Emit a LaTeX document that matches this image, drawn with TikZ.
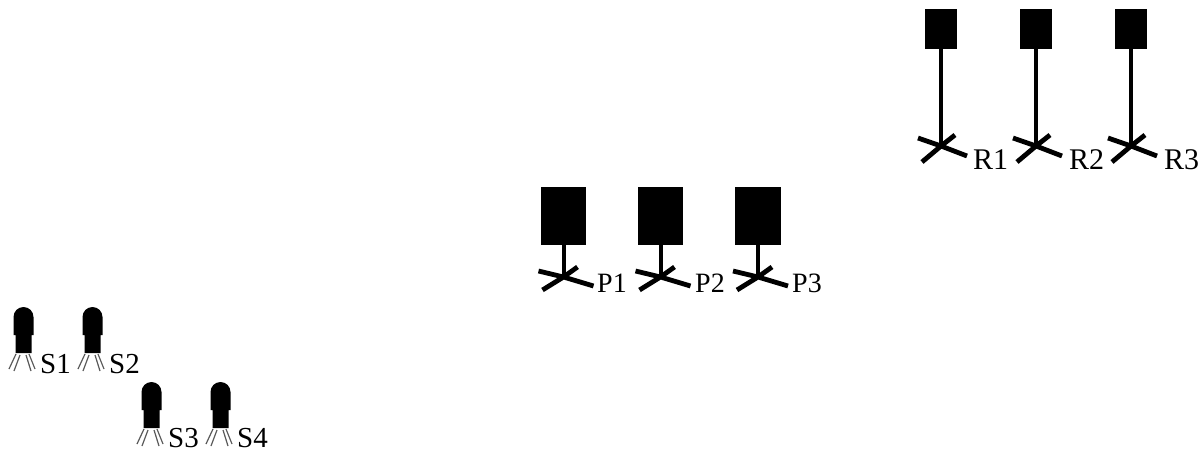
\documentclass[tikz,border=0pt]{standalone}
\usepackage{fontspec}
\setmainfont{Liberation Serif}
\tikzset{
  x=1pt,y=-1pt,
  blk/.style={fill=black,draw=none},
  pole/.style={line width=4pt,draw=black},
  blade/.style={line width=4.8pt,draw=black},
  leg/.style={line width=1.2pt,draw=black!65},
  lab/.style={inner sep=0pt,anchor=base west},
  labr/.style={lab,font=\fontsize{30}{30}\selectfont},
  labp/.style={lab,font=\fontsize{28}{28}\selectfont},
  labs/.style={lab,font=\fontsize{29}{29}\selectfont}
}
\newcommand{\spk}[2]{%
  \fill[blk] (#1-10,#2-18) -- (#1-10,#2-36) arc[start angle=180,end angle=360,radius=10] -- (#1+10,#2-18) -- (#1+8,#2-18) -- (#1+8,#2) -- (#1-8,#2) -- (#1-8,#2-18) -- cycle;
  \draw[leg] (#1-7.5,#2+1) -- (#1-14.5,#2+16) (#1-3.5,#2+2) -- (#1-9.5,#2+18) (#1+2.5,#2+2) -- (#1+7.5,#2+18) (#1+5.5,#2+1) -- (#1+11.5,#2+16);
}
\newcommand{\rtower}[2]{%
  \node[blk,minimum width=32,minimum height=40,inner sep=0pt,anchor=north] (#2box) at (#1,9) {};
  \coordinate (#2hub) at (#1,146);
  \coordinate (#2a) at (#1-23,138);
  \coordinate (#2b) at (#1+26,156);
  \coordinate (#2c) at (#1-19,162);
  \coordinate (#2d) at (#1+14,135);
  \draw[pole] (#2box.south) -- (#2hub);
  \draw[blade] (#2a) -- (#2hub) -- (#2b) (#2c) -- (#2hub) -- (#2d);
}
\newcommand{\ptower}[2]{%
  \node[blk,minimum width=45.5,minimum height=58,inner sep=0pt,anchor=north] (#2box) at (#1,187) {};
  \coordinate (#2hub) at (#1,277);
  \coordinate (#2a) at (#1-25,271);
  \coordinate (#2b) at (#1+30,286);
  \coordinate (#2c) at (#1-21,290);
  \coordinate (#2d) at (#1+14,267);
  \draw[pole] (#2box.south) -- (#2hub);
  \draw[blade] (#2a) -- (#2hub) -- (#2b) (#2c) -- (#2hub) -- (#2d);
}
\begin{document}
\begin{tikzpicture}
\useasboundingbox (0,0) rectangle (1204,450);
\rtower{941}{R1}
\rtower{1036}{R2}
\rtower{1131}{R3}
\node[labr] (lr1) at (973,169) {R1};
\node[labr] (lr2) at (1069,169) {R2};
\node[labr] (lr3) at (1164,169) {R3};
\ptower{563.5}{P1}
\ptower{660.5}{P2}
\ptower{758}{P3}
\node[labp] (lp1) at (597,292) {P1};
\node[labp] (lp2) at (695,292) {P2};
\node[labp] (lp3) at (792,292) {P3};
\spk{23.5}{353}
\spk{92.5}{353}
\spk{151.5}{428}
\spk{220.5}{428}
\node[labs] (ls1) at (40,373) {S1};
\node[labs] (ls2) at (109,373) {S2};
\node[labs] (ls3) at (168,447) {S3};
\node[labs] (ls4) at (237,447) {S4};
\end{tikzpicture}
\end{document}
